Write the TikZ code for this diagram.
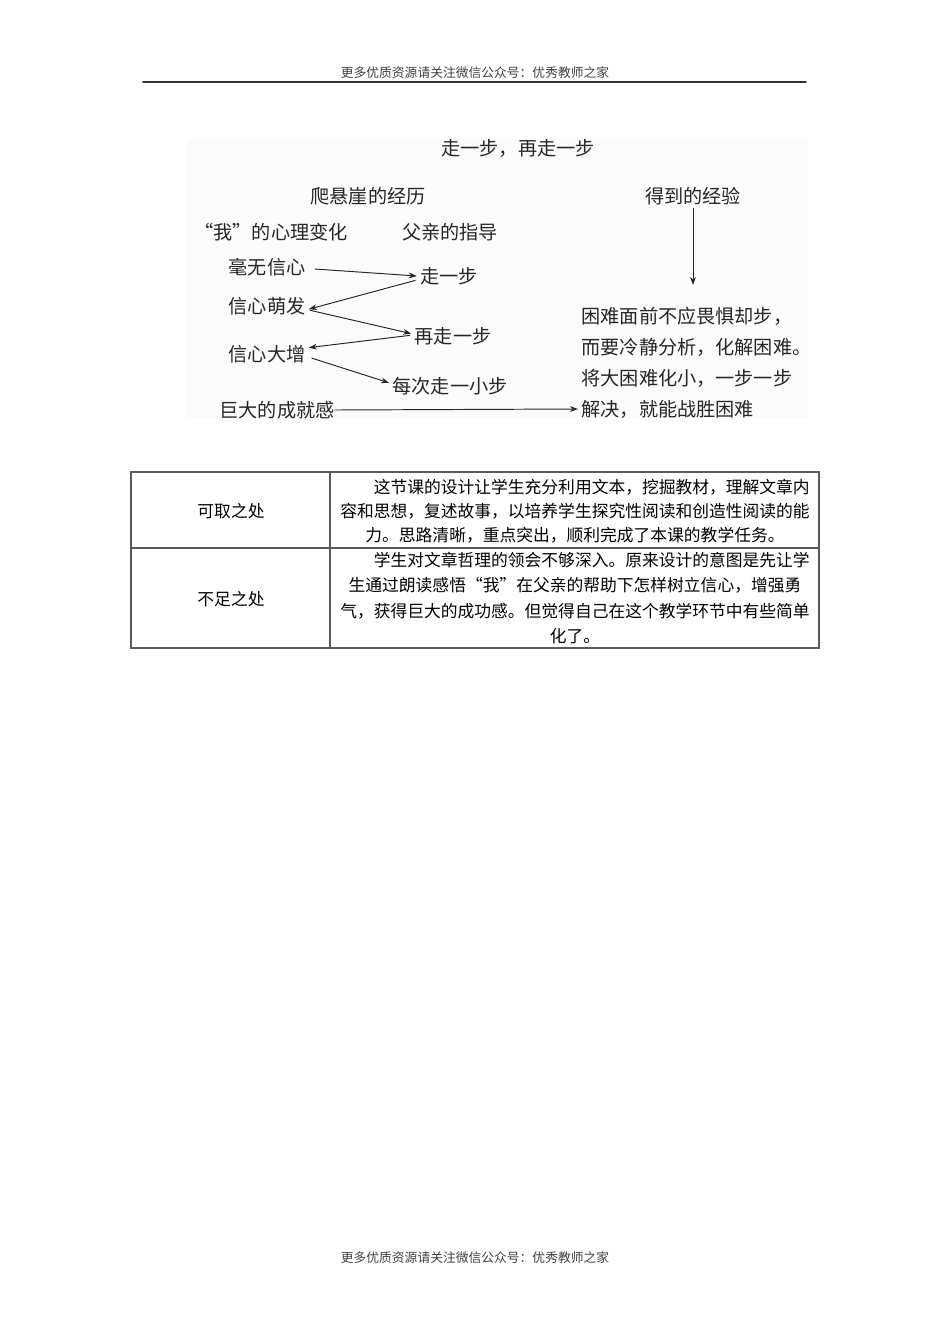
\documentclass[tikz,border=0pt]{standalone}
\usepackage{fontspec}
\newfontfamily\cjk{Noto Sans CJK SC}
\usepackage{xcolor}
\definecolor{mygray}{RGB}{90,90,90}
\definecolor{mybg}{RGB}{251,251,251}
\usepackage{tikz}
\usetikzlibrary{arrows.meta}

\begin{document}
\begin{tikzpicture}[x=0.6263pt,y=-0.6263pt,line cap=round]
	\tikzstyle{small}=[font=\cjk\fontsize{8}{10}\selectfont,text=black!75,inner sep=1pt];
	\tikzstyle{txt}=[font=\cjk\fontsize{12}{14}\selectfont,text=black!85,inner sep=2pt];
	\tikzstyle{cell}=[font=\cjk\fontsize{10.5}{15.2}\selectfont,inner sep=0pt,align=center];
	\tikzstyle{arr}=[line width=0.6pt,black!85,-{Stealth[length=5pt,width=3.6pt]}];
	\useasboundingbox[fill=white] (0,0) rectangle (950,1344);
	%% header and footer
	\node[small] (head) at (475,73) {更多优质资源请关注微信公众号：优秀教师之家};
	\draw[line width=1pt,black!80] (143,82) -- (806,82);
	\node[small] (foot) at (475,1258) {更多优质资源请关注微信公众号：优秀教师之家};
	%% picture area
	\path[fill=mybg] (187,139) rectangle (808,418);
	\node[txt] (title) at (518,148) {走一步，再走一步};
	\node[txt] (climb) at (368,196) {爬悬崖的经历};
	\node[txt] (gain)  at (693,196) {得到的经验};
	\node[txt] (me)    at (271,232) {“我”的心理变化};
	\node[txt] (dad)   at (450,232) {父亲的指导};
	%%
	\node[txt] (s1) at (267,267) {毫无信心};
	\node[txt] (s2) at (267,306) {信心萌发};
	\node[txt] (s3) at (267,354) {信心大增};
	\node[txt] (s4) at (277,410) {巨大的成就感};
	\node[txt] (f1) at (449,276) {走一步};
	\node[txt] (f2) at (453,336) {再走一步};
	\node[txt] (f3) at (450,386) {每次走一小步};
	%%
	\node[txt,anchor=west] (r1) at (578,316) {困难面前不应畏惧却步，};
	\node[txt,anchor=west] (r2) at (578,347) {而要冷静分析，化解困难。};
	\node[txt,anchor=west] (r3) at (578,378) {将大困难化小，一步一步};
	\node[txt,anchor=west] (r4) at (578,409) {解决，就能战胜困难};
	\coordinate (gainend) at (693,285);
	%% arrows
	\draw[arr,shorten <=4pt] ([yshift=-1pt]s1.east) -- ([yshift=0pt]f1.west);
	\draw[arr,shorten <=1pt] ([yshift=-2.5pt]f1.west) -- ([yshift=-2pt]s2.east);
	\draw[arr,shorten <=1pt] ([yshift=-2.5pt]s2.east) -- ([yshift=1.5pt]f2.west);
	\draw[arr,shorten <=1pt] ([yshift=0.5pt]f2.west) -- ([yshift=4pt]s3.east);
	\draw[arr,shorten <=2pt] ([yshift=-2pt]s3.east) -- ([yshift=2pt]f3.west);
	\draw[arr] ([xshift=-2pt]s4.east) -- (r4.west);
	\draw[arr] (gain.south) -- (gainend);
	%% table
	\begin{scope}[line width=0.8pt,mygray]
		\draw (131,472) rectangle (819,648);
		\draw (330,472) -- (330,648);
		\draw (131,548) -- (819,548);
	\end{scope}
	\node[cell] (good) at (231,511) {可取之处};
	\node[cell] (weak) at (231,599) {不足之处};
	\node[cell] (goodtxt) at (575,511) {\hspace{2em}这节课的设计让学生充分利用文本，挖掘教材，理解文章内\\容和思想，复述故事，以培养学生探究性阅读和创造性阅读的能\\力。思路清晰，重点突出，顺利完成了本课的教学任务。};
	\node[cell,font=\cjk\fontsize{10.5}{15.8}\selectfont] (weaktxt) at (575,598) {\hspace{2em}学生对文章哲理的领会不够深入。原来设计的意图是先让学\\生通过朗读感悟“我”在父亲的帮助下怎样树立信心，增强勇\\气，获得巨大的成功感。但觉得自己在这个教学环节中有些简单\\化了。};
\end{tikzpicture}
\end{document}
